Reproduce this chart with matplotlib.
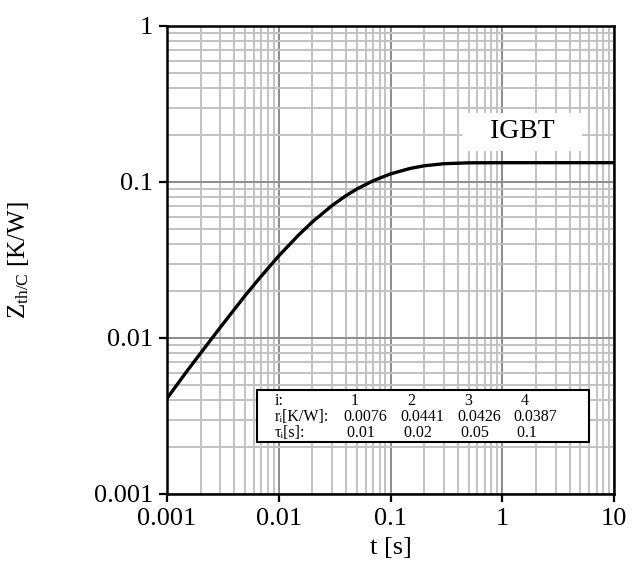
import numpy as np
import matplotlib
matplotlib.use("Agg")
import matplotlib.pyplot as plt
from matplotlib.patches import Rectangle

plt.rcParams['font.family'] = ['Liberation Serif', 'DejaVu Serif']
plt.rcParams['mathtext.fontset'] = 'custom'
plt.rcParams['mathtext.rm'] = 'Liberation Serif'
plt.rcParams['mathtext.it'] = 'Liberation Serif:italic'

# transient thermal impedance
t_s = [0.001, 0.0015, 0.002, 0.003, 0.005, 0.007, 0.01, 0.015, 0.02, 0.03,
       0.04, 0.05, 0.07, 0.1, 0.15, 0.2, 0.3, 0.5, 1, 10]
zth = [0.0041, 0.0061, 0.0080, 0.0117, 0.0187, 0.0250, 0.0336, 0.0456, 0.0555, 0.0707,
       0.0818, 0.0902, 0.1019, 0.1127, 0.1222, 0.1270, 0.1310, 0.1327, 0.1330, 0.1330]

# Foster model table
idx = ['1', '2', '3', '4']
r_i = ['0.0076', '0.0441', '0.0426', '0.0387']
tau_i = ['0.01', '0.02', '0.05', '0.1']

xticks = [0.001, 0.01, 0.1, 1, 10]
xticklabels = ['0.001', '0.01', '0.1', '1', '10']
yticks = [0.001, 0.01, 0.1, 1]
yticklabels = ['0.001', '0.01', '0.1', '1']

W, H = 642, 566
fig = plt.figure(figsize=(W / 100, H / 100), dpi=100)
ax = fig.add_axes([167 / W, 1 - 494 / H, 447 / W, 468 / H])

ax.plot(t_s, zth, color='black', lw=2.4, zorder=4)
ax.set_xscale('log')
ax.set_yscale('log')
ax.set_xlim(0.001, 10)
ax.set_ylim(0.001, 1)

ax.grid(True, which='minor', color='#c2c2c2', lw=1.4)
ax.grid(True, which='major', color='#8c8c8c', lw=1.4)
ax.set_axisbelow(True)

ax.set_xticks(xticks)
ax.set_xticklabels(xticklabels)
ax.set_yticks(yticks)
ax.set_yticklabels(yticklabels)
ax.tick_params(which='major', direction='out', length=6, width=1.6,
               labelsize=19, pad=4)
ax.tick_params(which='minor', length=0)
for s in ax.spines.values():
    s.set_color('black')
    s.set_linewidth(1.8)

ax.set_xlabel('t [s]', fontsize=19)
ax.set_ylabel(r'Z$_{\mathrm{th/C}}$ [K/W]', fontsize=18)
ax.xaxis.set_label_coords(0.5, -0.092)
ax.yaxis.set_label_coords(-0.305, 0.5)

def fx(px):
    return (px - 167) / 447

def fy(py):
    return (494 - py) / 468

ax.text(fx(522), fy(132), '   IGBT   ', transform=ax.transAxes, fontsize=20,
        ha='center', va='center', zorder=5,
        bbox=dict(facecolor='white', edgecolor='none', pad=5))

box = Rectangle((fx(257), fy(442)), fx(589) - fx(257), fy(390) - fy(442),
                transform=ax.transAxes, facecolor='white', edgecolor='black',
                lw=1.5, zorder=5)
ax.add_patch(box)

# table text: one plain-text block per column so all rows share metrics
mid_y = fy(417)
labels = ['i:', 'r\u1d62[K/W]:', '\u03c4\u1d62[s]:']
ax.text(fx(275), mid_y, '\n'.join(labels), transform=ax.transAxes,
        fontsize=11.5, ha='left', va='center', linespacing=0.97, zorder=6)
col_left = [343, 400, 457, 513]
for j in range(4):
    ax.text(fx(col_left[j]), mid_y, f'  {idx[j]}\n{r_i[j]}\n {tau_i[j]}',
            transform=ax.transAxes, fontsize=11.5, ha='left', va='center',
            linespacing=0.97, multialignment='left', zorder=6)

fig.savefig('out.png', dpi=100)
